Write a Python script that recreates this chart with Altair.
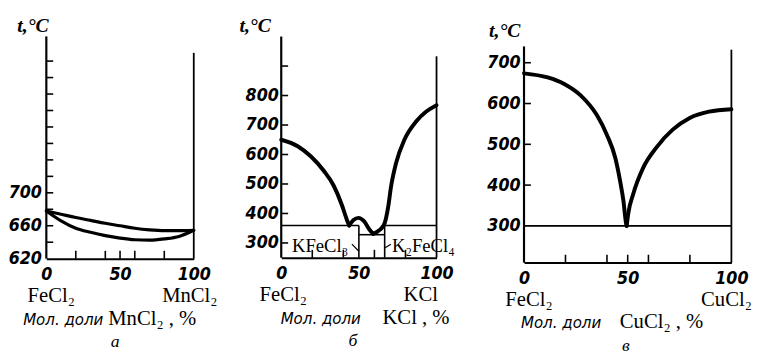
import altair as alt
import pandas as pd

NUM_FONT = "Liberation Sans Narrow, DejaVu Sans Condensed, Liberation Sans, sans-serif"
SERIF = "Liberation Serif, DejaVu Serif, serif"
CYR_FONT = "DejaVu Sans Condensed, Liberation Sans, sans-serif"

# ---------- а : FeCl2 – MnCl2 ----------
a_x = [0, 10, 20, 30, 40, 50, 60, 70, 80, 90, 100]
a_liquidus = [678, 674, 670, 666.5, 663, 660, 657, 655, 654, 654, 654.5]
a_solidus = [678, 666, 657, 652, 648, 645, 643, 642.5, 644, 647, 654.5]
a_ylabels = [620, 660, 700]
a_yticks = [640, 660, 680, 700, 720, 740, 760, 780, 800, 820, 840, 860]
a_xticks = [20, 40, 50, 60, 80]
a_names = ["FeCl₂", "MnCl₂"]
a_title = ["Мол. доли", "MnCl₂ , %"]
a_letter = "а"

# ---------- б : FeCl2 – KCl ----------
b_left_x = [0, 10.6, 19, 27.5, 33.8, 39.1, 42.3, 43.8]
b_left_t = [650, 628, 594, 544, 494, 428, 378, 359]
b_hump_x = [43.8, 46.5, 49.7, 53.3, 57, 59.2]
b_hump_t = [359, 378, 385, 374, 344, 331]
b_right_x = [59.2, 63.4, 66.6, 68.7, 70.8, 74, 79.3, 86.7, 93, 100]
b_right_t = [331, 344, 367, 417, 494, 572, 650, 711, 744, 767]
b_eutectic_t = [359, 328]
b_phase_x = [50, 66.6]
b_ylabels = [300, 400, 500, 600, 700, 800]
b_yticks = [300, 400, 500, 600, 700, 800, 900]
b_xticks = [20, 40, 60, 80]
b_names = ["FeCl₂", "KCl"]
b_title = ["Мол. доли", "KCl , %"]
b_letter = "б"
b_compounds = ["KFeCl₃", "K₂FeCl₄"]
b_compound_x = [25, 71.3]
b_compound_t = [291, 291]
b_leader_x = [45.5, 50, 66.6, 70.6]
b_leader_t = [296, 272, 283, 296]

# ---------- в : FeCl2 – CuCl2 ----------
c_left_x = [0, 11.4, 19.4, 27.3, 35.2, 40, 44, 46.3, 47.9, 49.2, 49.5]
c_left_t = [674, 664, 648, 620, 571, 523, 467, 411, 363, 307, 300]
c_right_x = [49.5, 50.3, 52.7, 57.5, 63.8, 71.7, 79.7, 89.2, 100]
c_right_t = [300, 331, 379, 443, 492, 536, 564, 580, 586]
c_eutectic_t = 300
c_ylabels = [300, 400, 500, 600, 700]
c_yticks = [400, 500, 600, 700]
c_xticks = [20, 40, 50, 60, 80]
c_names = ["FeCl₂", "CuCl₂"]
c_title = ["Мол. доли", "CuCl₂ , %"]
c_letter = "в"


def panel(W, H, ydom, left_top, right_top, ylabels, yticks, xticks, curves, cw,
          rules, names, name_dx, title, title_dx, letter, letter_dx, ttx, tty,
          ylab_pad, extra=None):
    xsc = alt.Scale(domain=[0, 100], nice=False, zero=False)
    ysc = alt.Scale(domain=ydom, nice=False, zero=False)
    xax = alt.Axis(
        values=[0, 50, 100], ticks=False, domain=True, domainColor="black",
        domainWidth=2, grid=False, title=None, labelFlush=False,
        labelFont=NUM_FONT, labelFontStyle="italic", labelFontSize=18,
        labelFontWeight="bold", labelColor="black", labelPadding=7,
        labelOverlap=False)
    yax = alt.Axis(
        values=ylabels, ticks=False, domain=False, grid=False,
        labelFont=NUM_FONT, labelFontStyle="italic", labelFontSize=18,
        labelFontWeight="bold", labelColor="black", labelPadding=ylab_pad,
        labelOverlap=False,
        title="t,°C", titleAngle=0, titleAlign="left",
        titleBaseline="alphabetic", titleX=ttx, titleY=tty,
        titleFont=SERIF, titleFontStyle="italic", titleFontSize=20,
        titleFontWeight="bold", titleColor="black")

    def X(f="x:Q", **kw):
        return alt.X(f, scale=xsc, axis=xax, **kw)

    def Y(f="t:Q", **kw):
        return alt.Y(f, scale=ysc, axis=yax, **kw)

    ymin = ydom[0]
    frame = pd.DataFrame({"x": [0, 100], "x2": [0, 100], "t": [ymin, ymin],
                          "t2": [left_top, right_top], "w": [2.2, 1.8]})
    axes = alt.Chart(frame).mark_rule(color="black").encode(
        x=X(), x2="x2:Q", y=Y(), y2="t2:Q",
        strokeWidth=alt.StrokeWidth("w:Q", scale=None))
    yt = alt.Chart(pd.DataFrame({"t": yticks})).mark_rule(
        color="black", strokeWidth=1.6).encode(
        y=Y(), x=alt.value(0), x2=alt.value(7))
    xt = alt.Chart(pd.DataFrame({"x": xticks})).mark_rule(
        color="black", strokeWidth=1.6).encode(
        x=X(), y=alt.value(H), y2=alt.value(H - 8))
    cv = alt.Chart(curves).mark_line(
        color="black", strokeWidth=cw, interpolate="monotone",
        strokeCap="round", strokeJoin="round").encode(
        x=X(), y=Y(), detail="seg:N")
    layers = [axes, yt, xt, cv]
    if rules is not None:
        layers.append(alt.Chart(rules).mark_rule(color="black").encode(
            x=X(), x2="x2:Q", y=Y(), y2="t2:Q",
            strokeWidth=alt.StrokeWidth("w:Q", scale=None)))

    def text_px(xv, label, ypix, **mk):
        df = pd.DataFrame({"x": [xv], "label": [label]})
        return alt.Chart(df).mark_text(color="black", baseline="middle", **mk).encode(
            x=X(), y=alt.value(ypix), text="label:N")

    layers.append(text_px(0, names[0], H + 38, dx=name_dx[0],
                          font=SERIF, fontSize=21, align="center"))
    layers.append(text_px(100, names[1], H + 38, dx=name_dx[1],
                          font=SERIF, fontSize=21, align="center"))
    layers.append(text_px(50, title[0], H + 62, dx=title_dx[0], font=CYR_FONT,
                          fontSize=17, fontStyle="italic", align="right"))
    layers.append(text_px(50, title[1], H + 61, dx=title_dx[1], font=SERIF,
                          fontSize=21, align="left"))
    layers.append(text_px(50, letter, H + 85, dx=letter_dx, font=SERIF,
                          fontSize=18, fontStyle="italic", align="center"))
    if extra is not None:
        layers += extra(X, Y)
    return alt.layer(*layers).properties(width=W, height=H)


# ---- panel а ----
a_curves = pd.DataFrame({
    "x": a_x + a_x,
    "t": a_liquidus + a_solidus,
    "seg": ["liq"] * len(a_x) + ["sol"] * len(a_x)})
pa = panel(150, 229, [620, 893.4], 890, 870, a_ylabels, a_yticks, a_xticks,
           a_curves, 3.2, None, a_names, [5, -4], a_title, [-17, -12],
           a_letter, -5, -30, -2, 5)

# ---- panel б ----
b_curves = pd.DataFrame({
    "x": b_left_x + b_hump_x + b_right_x,
    "t": b_left_t + b_hump_t + b_right_t,
    "seg": ["l"] * len(b_left_x) + ["h"] * len(b_hump_x) + ["r"] * len(b_right_x)})
b_rules = pd.DataFrame({
    "x": [0, b_phase_x[1], b_phase_x[0], b_phase_x[0], b_phase_x[1],
          b_leader_x[0], b_leader_x[2]],
    "x2": [b_phase_x[0], 100, b_phase_x[1], b_phase_x[0], b_phase_x[1],
           b_leader_x[1], b_leader_x[3]],
    "t": [b_eutectic_t[0], b_eutectic_t[0], b_eutectic_t[1], 250, 250,
          b_leader_t[0], b_leader_t[2]],
    "t2": [b_eutectic_t[0], b_eutectic_t[0], b_eutectic_t[1], b_eutectic_t[0],
           b_eutectic_t[0], b_leader_t[1], b_leader_t[3]],
    "w": [1.6, 1.6, 1.6, 1.6, 1.6, 1.2, 1.2]})


def b_extra(X, Y):
    out = []
    for lab, xv, tv, al in zip(b_compounds, b_compound_x, b_compound_t,
                               ["center", "left"]):
        df = pd.DataFrame({"x": [xv], "t": [tv], "label": [lab]})
        out.append(alt.Chart(df).mark_text(
            color="black", baseline="middle", font=SERIF, fontSize=19,
            align=al).encode(x=X(), y=Y(), text="label:N"))
    return out


pb = panel(158, 228, [250, 1010], 1000, 933, b_ylabels, b_yticks, b_xticks,
           b_curves, 4, b_rules, b_names, [2, -16], b_title, [2, 24],
           b_letter, -6, -43, -2, 3, extra=b_extra)

# ---- panel в ----
c_curves = pd.DataFrame({
    "x": c_left_x + c_right_x,
    "t": c_left_t + c_right_t,
    "seg": ["l"] * len(c_left_x) + ["r"] * len(c_right_x)})
c_rules = pd.DataFrame({"x": [0], "x2": [100], "t": [c_eutectic_t],
                        "t2": [c_eutectic_t], "w": [1.6]})
pc = panel(211, 233, [210, 771.4], 740, 732, c_ylabels, c_yticks, c_xticks,
           c_curves, 4, c_rules, c_names, [5, -5], c_title, [-27, -8],
           c_letter, -2, -36, 3, 4)

chart = alt.hconcat(pa, pb, pc, spacing=89, bounds="flush").properties(
    padding={"left": 0, "top": 5, "right": 2, "bottom": 0},
).configure(background="white").configure_view(stroke=None)

chart.save("out.html", embed_options={"renderer": "svg", "actions": False})
